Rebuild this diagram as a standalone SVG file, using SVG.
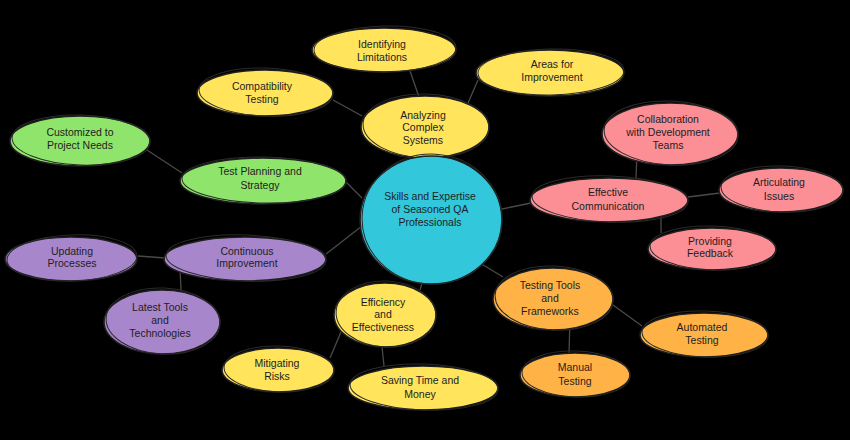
<svg xmlns="http://www.w3.org/2000/svg" width="850" height="440" viewBox="0 0 850 440">
<style>
.bg{fill:#000}
.e{stroke:#1e1e1e;stroke-width:1.6}
.s{fill:none;stroke:#2a2a2a;stroke-width:1}
.y{fill:#ffe45c}.g{fill:#8fe46b}.c{fill:#33c7dc}.p{fill:#fb8f95}.v{fill:#a886cc}.o{fill:#ffb347}
text{font-family:"Liberation Sans",Arial,sans-serif;font-size:10.5px;fill:#1e1e1e;text-anchor:middle;dominant-baseline:middle}
.conn line{stroke:#4a4a4a;stroke-width:1.3;fill:none}
</style>
<rect class="bg" width="850" height="440"/>
<g class="conn" id="connectors">
<line x1="419" y1="97" x2="410" y2="71"/>
<line x1="362" y1="116" x2="333" y2="100"/>
<line x1="468" y1="103" x2="478" y2="80"/>
<line x1="182" y1="173" x2="147" y2="150"/>
<line x1="346" y1="182" x2="362" y2="198"/>
<line x1="502" y1="209" x2="531" y2="203"/>
<line x1="636" y1="179" x2="637" y2="150"/>
<line x1="688" y1="197" x2="720" y2="193"/>
<line x1="661" y1="212" x2="661" y2="233"/>
<line x1="362" y1="226" x2="326" y2="254"/>
<line x1="138" y1="256" x2="165" y2="258"/>
<line x1="180" y1="268" x2="181" y2="290"/>
<line x1="422" y1="283" x2="420" y2="290"/>
<line x1="346" y1="320" x2="330" y2="358"/>
<line x1="381" y1="337" x2="384" y2="366"/>
<line x1="480" y1="263" x2="503" y2="277"/>
<line x1="613" y1="305" x2="642" y2="326"/>
<line x1="570" y1="318" x2="569" y2="354"/>
</g>
<g id="identifying-limitations"><ellipse class="e y" cx="384" cy="50" rx="72" ry="22"/><ellipse class="s" cx="385" cy="49" rx="71" ry="23" transform="rotate(-1 384 50)"/><text x="382" y="45">Identifying</text><text x="382" y="58">Limitations</text></g>
<g id="compatibility-testing"><ellipse class="e y" cx="265" cy="93" rx="68" ry="23"/><ellipse class="s" cx="266" cy="92" rx="67" ry="24" transform="rotate(2 265 93)"/><text x="262" y="87">Compatibility</text><text x="262" y="100">Testing</text></g>
<g id="areas-for-improvement"><ellipse class="e y" cx="550" cy="73" rx="74" ry="23"/><ellipse class="s" cx="551" cy="72" rx="73" ry="23" transform="rotate(-1 550 73)"/><text x="552" y="65">Areas for</text><text x="552" y="78">Improvement</text></g>
<g id="analyzing-complex-systems"><ellipse class="e y" cx="425" cy="127" rx="64" ry="31"/><ellipse class="s" cx="426" cy="126" rx="63" ry="32" transform="rotate(2 425 127)"/><text x="423" y="116">Analyzing</text><text x="423" y="128">Complex</text><text x="423" y="141">Systems</text></g>
<g id="customized-to-project-needs"><ellipse class="e g" cx="80" cy="141" rx="70" ry="25"/><ellipse class="s" cx="81" cy="140" rx="69" ry="25" transform="rotate(2 80 141)"/><text x="80" y="133">Customized to</text><text x="80" y="146">Project Needs</text></g>
<g id="test-planning-and-strategy"><ellipse class="e g" cx="263" cy="181" rx="83" ry="23"/><ellipse class="s" cx="264" cy="180" rx="82" ry="23" transform="rotate(1 263 181)"/><text x="260" y="172">Test Planning and</text><text x="260" y="186">Strategy</text></g>
<g id="central"><ellipse class="e c" cx="431" cy="220" rx="71" ry="64"/><ellipse class="s" cx="432" cy="219" rx="70" ry="65" transform="rotate(3 431 220)"/><text x="430" y="197">Skills and Expertise</text><text x="430" y="210">of Seasoned QA</text><text x="430" y="223">Professionals</text></g>
<g id="collaboration-with-development-teams"><ellipse class="e p" cx="670" cy="134" rx="68" ry="31"/><ellipse class="s" cx="671" cy="133" rx="67" ry="32" transform="rotate(3 670 134)"/><text x="668" y="120">Collaboration</text><text x="668" y="133">with Development</text><text x="668" y="146">Teams</text></g>
<g id="effective-communication"><ellipse class="e p" cx="609" cy="200" rx="79" ry="22"/><ellipse class="s" cx="610" cy="199" rx="78" ry="23" transform="rotate(2 609 200)"/><text x="608" y="193">Effective</text><text x="608" y="207">Communication</text></g>
<g id="articulating-issues"><ellipse class="e p" cx="781" cy="190" rx="62" ry="22"/><ellipse class="s" cx="782" cy="189" rx="61" ry="23" transform="rotate(2 781 190)"/><text x="779" y="183">Articulating</text><text x="779" y="197">Issues</text></g>
<g id="providing-feedback"><ellipse class="e p" cx="712" cy="249" rx="64" ry="21"/><ellipse class="s" cx="713" cy="248" rx="63" ry="22" transform="rotate(2 712 249)"/><text x="710" y="242">Providing</text><text x="710" y="254">Feedback</text></g>
<g id="updating-processes"><ellipse class="e v" cx="71" cy="259" rx="66" ry="22"/><ellipse class="s" cx="72" cy="258" rx="65" ry="23" transform="rotate(-2 71 259)"/><text x="72" y="252">Updating</text><text x="72" y="264">Processes</text></g>
<g id="continuous-improvement"><ellipse class="e v" cx="245" cy="259" rx="81" ry="22"/><ellipse class="s" cx="246" cy="258" rx="80" ry="23" transform="rotate(2 245 259)"/><text x="247" y="252">Continuous</text><text x="247" y="264">Improvement</text></g>
<g id="latest-tools-and-technologies"><ellipse class="e v" cx="162" cy="322" rx="58" ry="32"/><ellipse class="s" cx="163" cy="321" rx="57" ry="33" transform="rotate(3 162 322)"/><text x="160" y="308">Latest Tools</text><text x="160" y="321">and</text><text x="160" y="334">Technologies</text></g>
<g id="efficiency-and-effectiveness"><ellipse class="e y" cx="385" cy="315" rx="51" ry="32"/><ellipse class="s" cx="386" cy="314" rx="50" ry="33" transform="rotate(3 385 315)"/><text x="383" y="303">Efficiency</text><text x="383" y="315">and</text><text x="383" y="328">Effectiveness</text></g>
<g id="mitigating-risks"><ellipse class="e y" cx="278" cy="370" rx="56" ry="22"/><ellipse class="s" cx="279" cy="369" rx="55" ry="23" transform="rotate(2 278 370)"/><text x="277" y="364">Mitigating</text><text x="277" y="377">Risks</text></g>
<g id="saving-time-and-money"><ellipse class="e y" cx="423" cy="388" rx="75" ry="22"/><ellipse class="s" cx="424" cy="387" rx="74" ry="23" transform="rotate(2 423 388)"/><text x="420" y="381">Saving Time and</text><text x="420" y="395">Money</text></g>
<g id="testing-tools-and-frameworks"><ellipse class="e o" cx="553" cy="299" rx="60" ry="31"/><ellipse class="s" cx="554" cy="298" rx="59" ry="32" transform="rotate(3 553 299)"/><text x="550" y="286">Testing Tools</text><text x="550" y="299">and</text><text x="550" y="312">Frameworks</text></g>
<g id="automated-testing"><ellipse class="e o" cx="704" cy="335" rx="64" ry="22"/><ellipse class="s" cx="705" cy="334" rx="63" ry="23" transform="rotate(2 704 335)"/><text x="702" y="328">Automated</text><text x="702" y="341">Testing</text></g>
<g id="manual-testing"><ellipse class="e o" cx="575" cy="375" rx="55" ry="22"/><ellipse class="s" cx="576" cy="374" rx="54" ry="23" transform="rotate(2 575 375)"/><text x="575" y="368">Manual</text><text x="575" y="382">Testing</text></g>
</svg>
